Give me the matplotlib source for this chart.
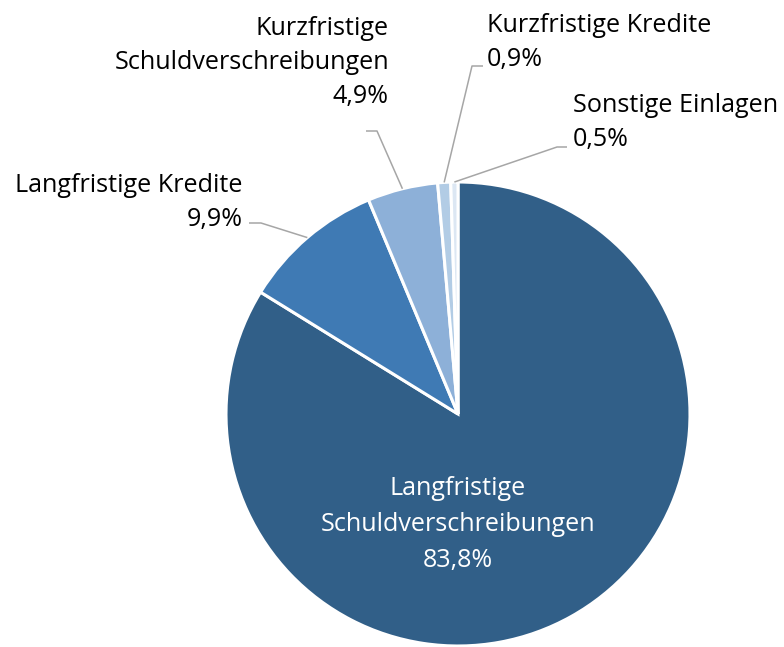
import numpy as np
import matplotlib
matplotlib.use("Agg")
import matplotlib.pyplot as plt

categories = ["Langfristige\nSchuldverschreibungen", "Langfristige Kredite",
              "Kurzfristige\nSchuldverschreibungen", "Kurzfristige Kredite",
              "Sonstige Einlagen"]
values = [83.8, 9.9, 4.9, 0.9, 0.5]
colors = ["#315F88", "#3F7AB4", "#8DB0D8", "#B2CCE5", "#DCE7F3"]

W, H = 784, 647
fig = plt.figure(figsize=(W / 100, H / 100), dpi=100)
ax = fig.add_axes([0, 0, 1, 1])
ax.set_xlim(0, W)
ax.set_ylim(0, H)
ax.set_aspect("equal")
ax.axis("off")

def Y(y):
    return H - y

cx, cy, r = 458, 414, 232
ax.pie(values, colors=colors, startangle=90, counterclock=False,
       center=(cx, Y(cy)), radius=r, frame=True,
       wedgeprops=dict(edgecolor="white", linewidth=2.2))
ax.set_xlim(0, W)
ax.set_ylim(0, H)
ax.axis("off")

FONT = "Open Sans"
FS = 18.1
LS = 34

def fmt(v):
    return f"{v:.1f}".replace(".", ",") + "%"

# mid angles of each wedge
angles = []
start = 90.0
for v in values:
    span = v / sum(values) * 360
    angles.append(start - span / 2)
    start -= span

# label placement: (x, first baseline y, ha, leader text end, elbow)
layout = {
    1: (243, 192, "right", (249, 223), (261, 223)),
    2: (389, 35, "right", (366, 131), (377, 131)),
    3: (487, 32, "left", (483, 66), (472, 66)),
    4: (573, 112, "left", (567, 147), (557, 147)),
}

for i, (cat, v) in enumerate(zip(categories, values)):
    lines = cat.split("\n") + [fmt(v)]
    if i == 0:
        for k, ln in enumerate(lines):
            ax.text(cx, Y(495 + k * 36), ln, ha="center", va="baseline",
                    fontsize=FS, family=FONT, color="white")
        continue
    x, y0, ha, p_end, p_elb = layout[i]
    for k, ln in enumerate(lines):
        ax.text(x, Y(y0 + k * LS), ln, ha=ha, va="baseline",
                fontsize=FS, family=FONT, color="black")
    a = np.deg2rad(angles[i])
    px, py = cx + r * np.cos(a), cy - r * np.sin(a)
    ax.plot([p_end[0], p_elb[0], px], [Y(p_end[1]), Y(p_elb[1]), Y(py)],
            color="#A6A6A6", linewidth=1.1, solid_capstyle="butt")

fig.savefig("out.png", dpi=100)
